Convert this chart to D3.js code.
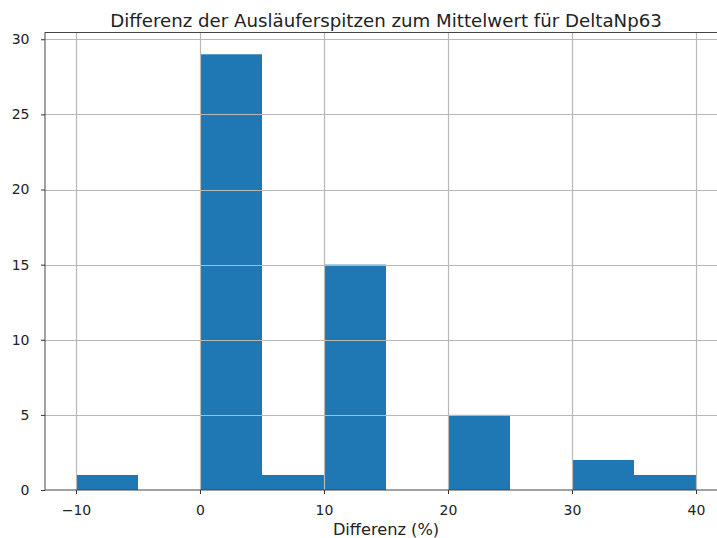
<!DOCTYPE html>
<html><head><meta charset="utf-8">
<script src="https://cdn.jsdelivr.net/npm/d3@7"></script>
<style>body{margin:0;background:#fff}svg{display:block}text{font-family:"DejaVu Sans",sans-serif;fill:#222}</style>
</head><body>
<svg id="c" width="717" height="538"></svg>
<script>
const binStarts = [-10,-5,0,5,10,15,20,25,30,35];
const binWidth = 5;
const counts = [1,0,29,1,15,0,5,0,2,1];
const xTicks = [-10,0,10,20,30,40];
const yTicks = [0,5,10,15,20,25,30];
const title = "Differenz der Ausläuferspitzen zum Mittelwert für DeltaNp63";
const xLabel = "Differenz (%)";

const svg = d3.select("#c");
const L=45, R=727, T=32.5, B=490;
const x = d3.scaleLinear().domain([-12.5,42.5]).range([L,R]);
const y = d3.scaleLinear().domain([0,30.45]).range([B,T]);

svg.append("defs").append("clipPath").attr("id","clip").append("rect")
  .attr("x",L).attr("y",T).attr("width",R-L).attr("height",B-T);

const plot = svg.append("g").attr("clip-path","url(#clip)");
plot.selectAll("rect.bar").data(binStarts).join("rect").attr("class","bar")
  .attr("x",d=>x(d)).attr("width",d=>x(d+binWidth)-x(d))
  .attr("y",(d,i)=>y(counts[i])).attr("height",(d,i)=>y(0)-y(counts[i]))
  .attr("fill","#1f77b4");

// grid on top
plot.selectAll("line.gx").data(xTicks).join("line").attr("class","gx")
  .attr("x1",d=>Math.round(x(d))+0.5).attr("x2",d=>Math.round(x(d))+0.5)
  .attr("y1",T).attr("y2",B).attr("stroke","#b8b8b8").attr("stroke-width",1.2);
plot.selectAll("line.gy").data(yTicks).join("line").attr("class","gy")
  .attr("y1",d=>Math.round(y(d))+0.5).attr("y2",d=>Math.round(y(d))+0.5)
  .attr("x1",L).attr("x2",R).attr("stroke","#b8b8b8").attr("stroke-width",1.2);

// axes
const xa = svg.append("g").attr("transform",`translate(0,${B})`)
  .call(d3.axisBottom(x).tickValues(xTicks).tickSize(4).tickPadding(11).tickFormat(d=>d<0?"\u2212"+Math.abs(d):d));
const ya = svg.append("g").attr("transform",`translate(${L},0)`)
  .call(d3.axisLeft(y).tickValues(yTicks).tickSize(4).tickPadding(11.5));
[xa,ya].forEach(a=>{
  a.select(".domain").remove();
  a.selectAll(".tick line").attr("stroke","#333").attr("stroke-width",1);
  a.selectAll(".tick text").style("font-size","14px").attr("fill","#222");
});
// spines
svg.append("rect").attr("x",L).attr("y",T).attr("width",R-L).attr("height",B-T)
  .attr("fill","none").attr("stroke","#444").attr("stroke-width",1);

svg.append("text").attr("x",(L+R)/2).attr("y",27).attr("text-anchor","middle")
  .style("font-size","18.2px").text(title);
svg.append("text").attr("x",(L+R)/2).attr("y",535).attr("text-anchor","middle")
  .style("font-size","16.2px").text(xLabel);
</script>
</body></html>
